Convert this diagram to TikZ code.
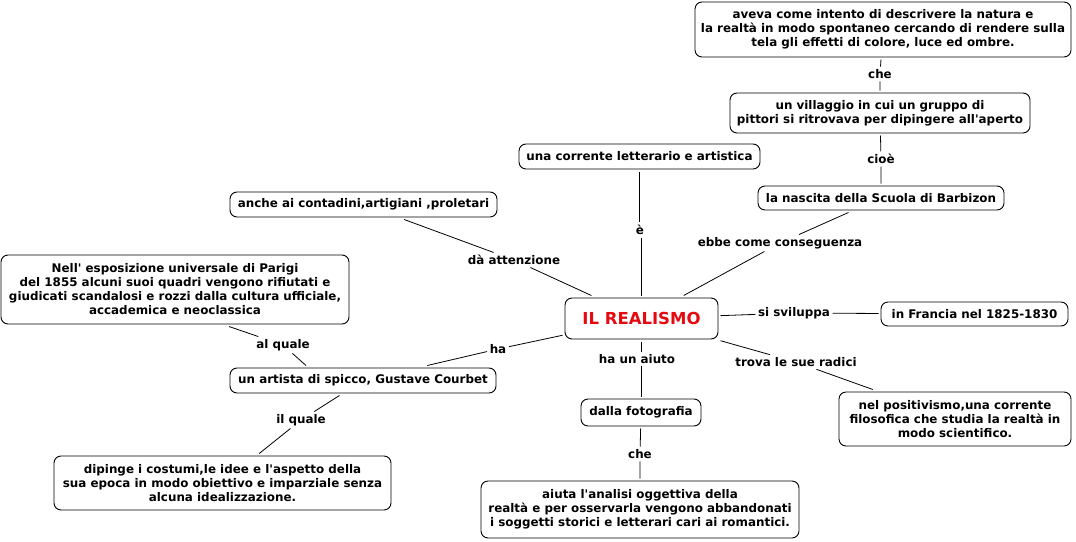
\documentclass[tikz,border=0pt]{standalone}
\usepackage{fontspec}
\setmainfont{DejaVu Sans}[Ligatures=TeXOff]
\definecolor{realred}{RGB}{228,10,16}
\begin{document}
\begin{tikzpicture}[x=1pt,y=-1pt,
  box/.style={draw, rounded corners=7pt, line width=0.9pt, align=center,
    font=\bfseries\fontsize{11.9}{14}\selectfont, inner sep=0pt, outer sep=2.5pt},
  lbl/.style={font=\bfseries\fontsize{11.9}{14}\selectfont, inner sep=2.5pt},
  conn/.style={line width=0.8pt}]
\useasboundingbox (0,0) rectangle (1076,541);
% boxes
\node[box, minimum width=376pt, minimum height=55pt] (intento) at (883,29.5)
  {aveva come intento di descrivere la natura e\\la realtà in modo spontaneo cercando di rendere sulla\\tela gli effetti di colore, luce ed ombre.};
\node[box, minimum width=300pt, minimum height=40pt] (villaggio) at (880,113)
  {un villaggio in cui un gruppo di\\pittori si ritrovava per dipingere all'aperto};
\node[box, minimum width=246pt, minimum height=24pt] (nascita) at (881,198)
  {la nascita della Scuola di Barbizon};
\node[box, minimum width=241pt, minimum height=25pt] (corrente) at (639.5,156.5)
  {una corrente letterario e artistica};
\node[box, minimum width=267pt, minimum height=25pt] (contadini) at (363.5,204.5)
  {anche ai contadini,artigiani ,proletari};
\node[box, minimum width=348pt, minimum height=69pt] (parigi) at (175,289.5)
  {Nell' esposizione universale di Parigi\\del 1855 alcuni suoi quadri vengono rifiutati e\\giudicati scandalosi e rozzi dalla cultura ufficiale,\\accademica e neoclassica};
\node[box, minimum width=153pt, minimum height=41pt, text=realred,
  font=\bfseries\fontsize{16.5}{18}\selectfont] (real) at (641.5,318.5) {IL REALISMO};
\node[box, minimum width=187pt, minimum height=24pt] (francia) at (974.5,314)
  {in Francia nel 1825-1830};
\node[box, minimum width=266pt, minimum height=25pt] (courbet) at (363,380.5)
  {un artista di spicco, Gustave Courbet};
\node[box, minimum width=120pt, minimum height=27pt] (foto) at (641,412.5)
  {dalla fotografia};
\node[box, minimum width=232pt, minimum height=54pt] (posit) at (955,419)
  {nel positivismo,una corrente\\filosofica che studia la realtà in\\modo scientifico.};
\node[box, minimum width=337pt, minimum height=54pt] (dipinge) at (222.5,483)
  {dipinge i costumi,le idee e l'aspetto della\\sua epoca in modo obiettivo e imparziale senza\\alcuna idealizzazione.};
\node[box, minimum width=318pt, minimum height=57pt] (aiuta) at (640,509.5)
  {aiuta l'analisi oggettiva della\\realtà e per osservarla vengono abbandonati\\i soggetti storici e letterari cari ai romantici.};
% labels
\node[lbl] (che1) at (880,74) {che};
\node[lbl] (cioe) at (881,159) {cioè};
\node[lbl] (e) at (640,230) {è};
\node[lbl] (ebbe) at (780,243) {ebbe come conseguenza};
\node[lbl] (da) at (514,260) {dà attenzione};
\node[lbl] (alquale) at (283,345) {al quale};
\node[lbl] (ha) at (498,349) {ha};
\node[lbl] (svil) at (794,313) {si sviluppa};
\node[lbl] (aiuto) at (637,359) {ha un aiuto};
\node[lbl] (trova) at (796,362) {trova le sue radici};
\node[lbl] (ilquale) at (301,420) {il quale};
\node[lbl] (che2) at (640,454) {che};
% connectors
\draw[conn] (intento) -- (che1) -- (villaggio);
\draw[conn] (villaggio) -- (cioe) -- (nascita);
\draw[conn] (real.north) -- (real.north |- e.south);
\draw[conn] (corrente.south) -- (corrente.south |- e.north);
\draw[conn] (real) -- (ebbe) -- (nascita);
\draw[conn] (real) -- (da) -- (contadini);
\draw[conn] (real) -- (ha) -- (courbet);
\draw[conn] ([xshift=-57pt]courbet.north) -- (alquale) -- ([xshift=54pt]parigi.south);
\draw[conn] (courbet) -- (ilquale) -- (dipinge);
\draw[conn] (real) -- (svil) -- (francia);
\draw[conn] (real) -- (trova) -- (posit);
\draw[conn] (real.south) -- (real.south |- aiuto.north);
\draw[conn] (foto.north) -- (foto.north |- aiuto.south);
\draw[conn] (foto) -- (che2) -- (aiuta);
\end{tikzpicture}
\end{document}
